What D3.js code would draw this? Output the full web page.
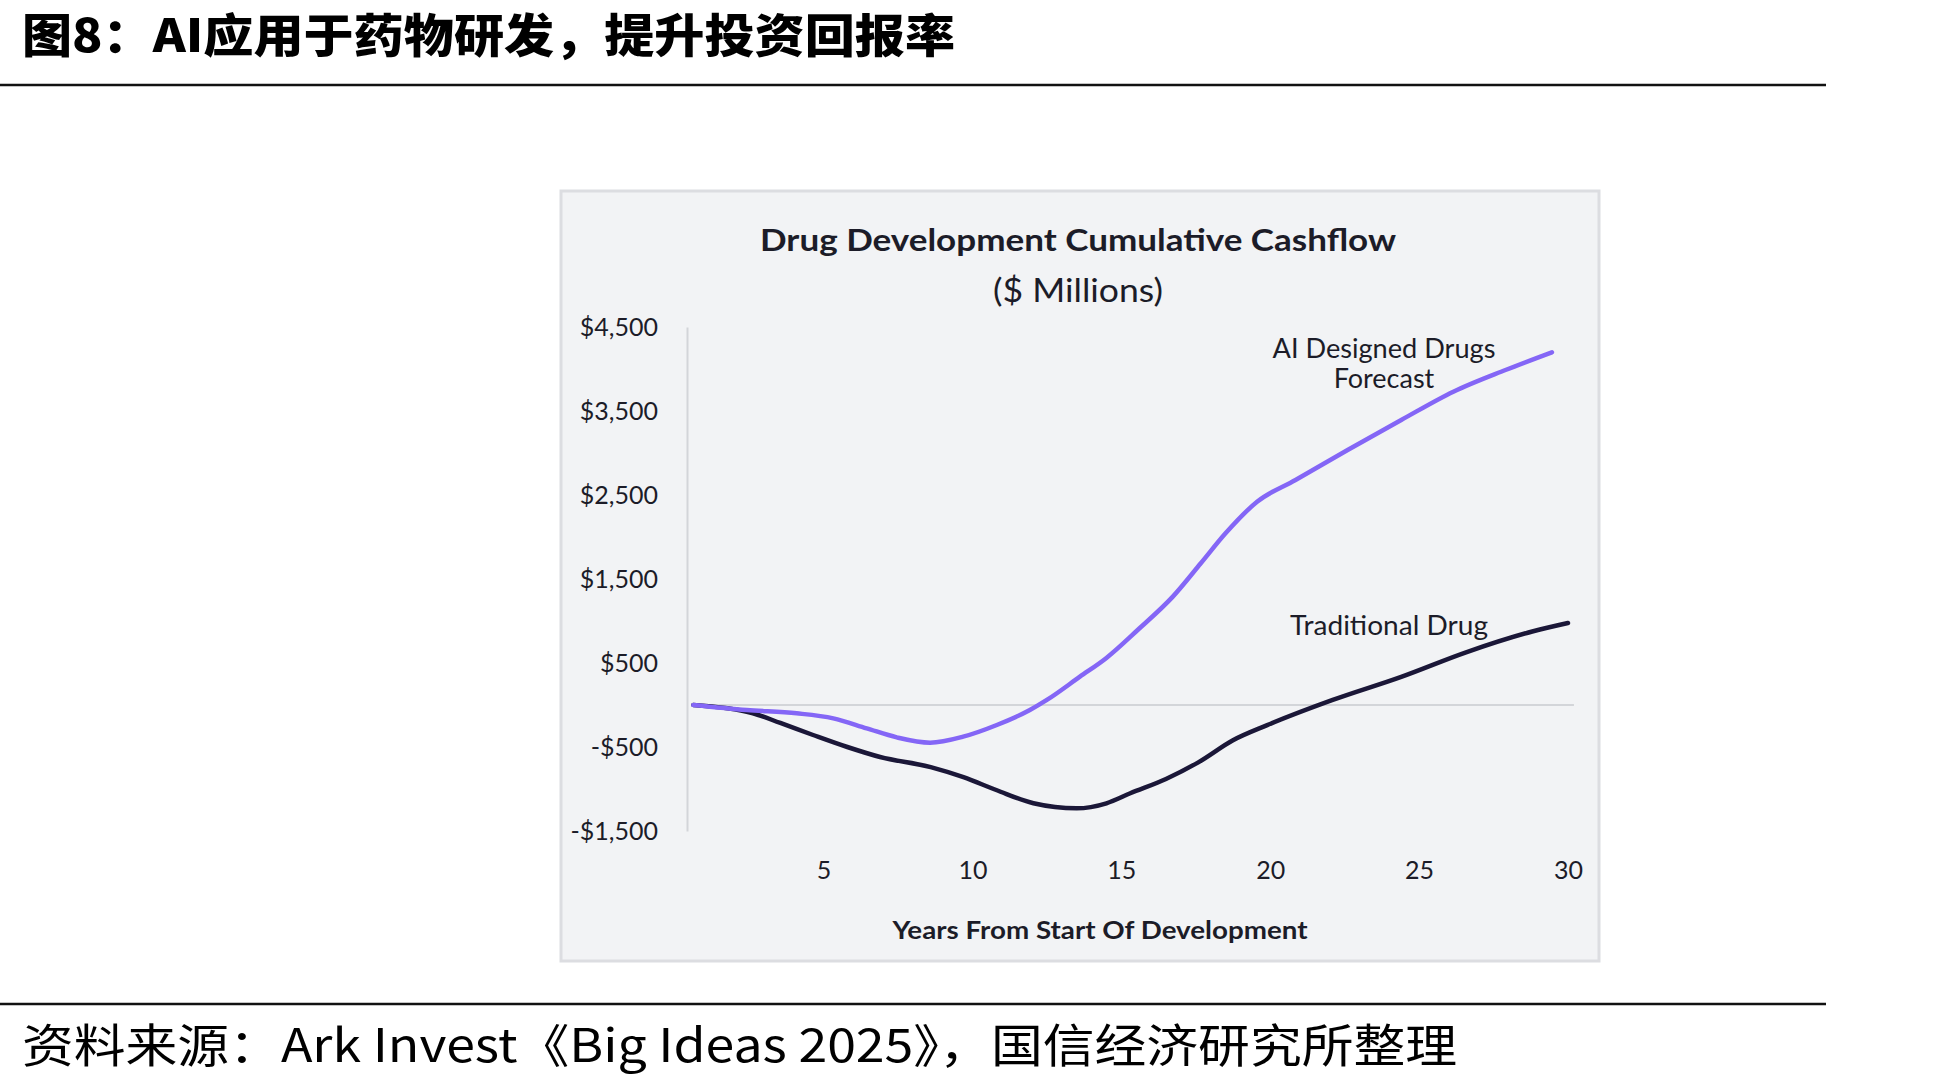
<!DOCTYPE html>
<html>
<head>
<meta charset="utf-8">
<script src="https://cdn.jsdelivr.net/npm/d3@7"></script>
<style>
  html, body { margin: 0; padding: 0; background: #ffffff; }
  svg { display: block; }
</style>
</head>
<body>
<svg id="chart" width="1950" height="1083"></svg>
<script>
// ---- data ----
const pageTitle = "图8：AI应用于药物研发，提升投资回报率";
const sourceNote = "资料来源：Ark Invest《Big Ideas 2025》，国信经济研究所整理";
const chartTitle = "Drug Development Cumulative Cashflow";
const chartSubtitle = "($ Millions)";
const xAxisTitle = "Years From Start Of Development";
const seriesNames = ["AI Designed Drugs Forecast", "Traditional Drug"];

const yTickValues = [4500, 3500, 2500, 1500, 500, -500, -1500];
const xTickValues = [5, 10, 15, 20, 25, 30];

// years from start, cumulative cashflow ($M)
const traditionalYears = [0.63, 2.6, 3.55, 4.65, 5.8, 6.9, 8.6, 9.7, 10.8, 12.05, 13.5, 14.5, 15.3, 16.5, 17.6, 18.75, 19.9, 22.1, 24.4, 26.6, 28.8, 30.0];
const traditionalValues = [0, -95, -214, -357, -500, -619, -740, -860, -1012, -1170, -1230, -1170, -1051, -880, -680, -420, -240, 60, 335, 630, 875, 976];

const aiYears = [0.63, 2.42, 4.1, 5.33, 6.45, 7.46, 8.58, 9.69, 10.82, 11.93, 12.5, 13.61, 14.5, 15.55, 16.73, 17.67, 18.5, 19.56, 20.85, 22.6, 24.4, 26.15, 27.9, 29.46];
const aiValues = [0, -60, -99, -159, -278, -385, -448, -377, -238, -60, 60, 337, 560, 893, 1290, 1687, 2044, 2420, 2679, 3036, 3393, 3730, 3988, 4199];

// ---- drawing ----
const svg = d3.select("#chart");
const chartFont = "Lato, 'Open Sans', sans-serif";
const cjkFont = "'Noto Sans CJK SC', sans-serif";

// page title
svg.append("text")
  .attr("x", 22).attr("y", 52)
  .attr("font-family", cjkFont).attr("font-weight", 900)
  .attr("font-size", 46).attr("fill", "#000")
  .attr("textLength", 933).attr("lengthAdjust", "spacingAndGlyphs")
  .text(pageTitle);

svg.append("line").attr("x1", 0).attr("x2", 1826).attr("y1", 85).attr("y2", 85)
  .attr("stroke", "#111").attr("stroke-width", 2.5);
svg.append("line").attr("x1", 0).attr("x2", 1826).attr("y1", 1004).attr("y2", 1004)
  .attr("stroke", "#111").attr("stroke-width", 2.5);

svg.append("text")
  .attr("x", 22).attr("y", 1062)
  .attr("font-family", cjkFont).attr("font-weight", 400)
  .attr("font-size", 46).attr("fill", "#000")
  .attr("textLength", 1435).attr("lengthAdjust", "spacingAndGlyphs")
  .text(sourceNote);

// panel
svg.append("rect")
  .attr("x", 561).attr("y", 191).attr("width", 1038).attr("height", 770)
  .attr("fill", "#f2f3f5").attr("stroke", "#dcdde1").attr("stroke-width", 3);

// scales
const x = d3.scaleLinear().domain([0, 30]).range([674.6, 1568]);
const y = d3.scaleLinear().domain([-1500, 4500]).range([831, 327]);

// titles
svg.append("text").attr("x", 1078).attr("y", 251)
  .attr("text-anchor", "middle")
  .attr("font-family", chartFont).attr("font-weight", 700)
  .attr("font-size", 31).attr("fill", "#1c1c28")
  .attr("textLength", 636).attr("lengthAdjust", "spacingAndGlyphs")
  .text(chartTitle);
svg.append("text").attr("x", 1078).attr("y", 302)
  .attr("text-anchor", "middle")
  .attr("font-family", chartFont).attr("font-weight", 400)
  .attr("font-size", 32).attr("fill", "#1c1c28")
  .attr("textLength", 170).attr("lengthAdjust", "spacingAndGlyphs")
  .text(chartSubtitle);

// y axis
const fmt = v => (v < 0 ? "-$" : "$") + d3.format(",")(Math.abs(v));
const yAxis = svg.append("g")
  .attr("transform", `translate(${687},0)`)
  .call(d3.axisLeft(y).tickValues(yTickValues).tickFormat(fmt).tickSize(0).tickSizeOuter(0).tickPadding(29));
yAxis.select(".domain").attr("stroke", "#d3d5d9").attr("stroke-width", 2);
yAxis.selectAll("text")
  .attr("font-family", chartFont).attr("font-size", 25)
  .attr("fill", "#1c1c28");

// x axis
const xAxis = svg.append("g")
  .attr("transform", `translate(0,${831})`)
  .call(d3.axisBottom(x).tickValues(xTickValues).tickSize(0).tickPadding(30));
xAxis.select(".domain").remove();
xAxis.selectAll("text")
  .attr("font-family", chartFont).attr("font-size", 25)
  .attr("fill", "#1c1c28");

svg.append("text").attr("x", 1100).attr("y", 939)
  .attr("text-anchor", "middle")
  .attr("font-family", chartFont).attr("font-weight", 700)
  .attr("font-size", 25).attr("fill", "#1c1c28")
  .attr("textLength", 415).attr("lengthAdjust", "spacingAndGlyphs")
  .text(xAxisTitle);

// zero line
svg.append("line")
  .attr("x1", x(0.55)).attr("x2", x(30.2))
  .attr("y1", y(0)).attr("y2", y(0))
  .attr("stroke", "#d3d5d9").attr("stroke-width", 2);

// lines
const line = d3.line().x(d => x(d[0])).y(d => y(d[1])).curve(d3.curveMonotoneX);
const tradData = traditionalYears.map((t, i) => [t, traditionalValues[i]]);
const aiData = aiYears.map((t, i) => [t, aiValues[i]]);

svg.append("path").datum(tradData).attr("d", line)
  .attr("fill", "none").attr("stroke", "#1b1738").attr("stroke-width", 4.5)
  .attr("stroke-linecap", "round").attr("stroke-linejoin", "round");
svg.append("path").datum(aiData).attr("d", line)
  .attr("fill", "none").attr("stroke", "#8466f6").attr("stroke-width", 4.5)
  .attr("stroke-linecap", "round").attr("stroke-linejoin", "round");

// series labels
const lab = svg.append("g").attr("font-family", chartFont).attr("font-size", 27)
  .attr("fill", "#1c1c28").attr("text-anchor", "middle");
lab.append("text").attr("x", 1384).attr("y", 358)
  .attr("textLength", 223).attr("lengthAdjust", "spacingAndGlyphs").text("AI Designed Drugs");
lab.append("text").attr("x", 1384).attr("y", 388).text("Forecast");
lab.append("text").attr("x", 1389).attr("y", 635)
  .attr("textLength", 198).attr("lengthAdjust", "spacingAndGlyphs").text(seriesNames[1]);
</script>
</body>
</html>
